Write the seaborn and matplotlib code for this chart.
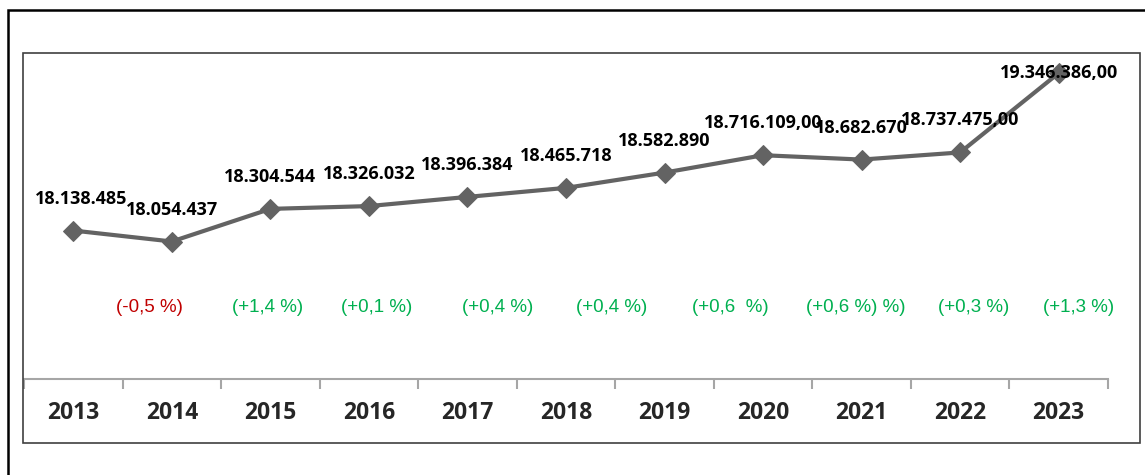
import numpy as np
import pandas as pd
import seaborn as sns
import matplotlib.pyplot as plt
from matplotlib.patches import Rectangle

# chart data
years = ["2013", "2014", "2015", "2016", "2017", "2018", "2019", "2020", "2021", "2022", "2023"]
population = [18138485, 18054437, 18304544, 18326032, 18396384, 18465718,
              18582890, 18716109, 18682670, 18737475, 19346386]
value_labels = ["18.138.485", "18.054.437", "18.304.544", "18.326.032", "18.396.384", "18.465.718",
                "18.582.890", "18.716.109,00", "18.682.670", "18.737.475,00", "19.346.386,00"]
change_labels = ["(-0,5 %)", "(+1,4 %)", "(+0,1 %)", "(+0,4 %)", "(+0,4 %)",
                 "(+0,6  %)", "(+0,6 %) %)", "(+0,3 %)", "(+1,3 %)"]
change_years = ["2014", "2015", "2016", "2017", "2018", "2019", "2021", "2022", "2023"]
change_shift = [-0.23, -0.03, 0.08, 0.31, 0.46, 0.67, -0.06, 0.14, 0.2]  # text box offsets

df = pd.DataFrame({"pos": np.arange(len(years)), "value": population})

sns.set_style("white")
plt.rcParams["font.family"] = ["Open Sans", "DejaVu Sans"]

fig = plt.figure(figsize=(11.45, 4.75), dpi=100)
ax = fig.add_axes([24 / 1145, 96 / 475, 1084 / 1145, 326 / 475])

sns.lineplot(data=df, x="pos", y="value", ax=ax, color="#636363", linewidth=3,
             marker="D", markersize=10, markeredgecolor="#636363")

# value labels above the points
for i, (v, lab) in enumerate(zip(population, value_labels)):
    off = 0 if i == len(years) - 1 else 32
    ax.annotate(lab, (i, v), xytext=(0 if i != 0 else 8, off), textcoords="offset pixels",
                ha="center", va="center", fontsize=13, fontweight="bold", color="black")

# yearly change labels
for yr, lab, sh in zip(change_years, change_labels, change_shift):
    i = years.index(yr)
    col = "#C00000" if lab.startswith("(-") else "#00B050"
    ax.text(i + sh, 17545000, lab, ha="center", va="center", fontsize=13.5,
            color=col, family=["Liberation Sans Narrow", "Liberation Sans"])

ax.set_xlim(-0.5, len(years) - 0.5)
ax.set_ylim(17000000, 19500000)
ax.set_xticks(range(len(years)))
ax.set_xticklabels(years, fontsize=16.5, fontweight="bold")
ax.set_xticks(np.arange(-0.5, len(years)), minor=True)
ax.tick_params(axis="x", which="both", bottom=True)
ax.tick_params(axis="x", which="major", length=0, pad=16)
ax.tick_params(axis="x", which="minor", length=7, width=1.5, color="#A6A6A6", direction="out")
ax.set_yticks([])
ax.set_xlabel("")
ax.set_ylabel("")
for s in ["top", "left", "right"]:
    ax.spines[s].set_visible(False)
ax.spines["bottom"].set_color("#A6A6A6")
ax.spines["bottom"].set_linewidth(1.5)
ax.patch.set_alpha(0)

# chart frames
fig.patches.append(Rectangle((23 / 1145, 32 / 475), 1117 / 1145, 390 / 475, transform=fig.transFigure,
                             fill=False, edgecolor="#404040", linewidth=1.2))
fig.patches.append(Rectangle((8 / 1145, -0.05), 1.1, (465 / 475) + 0.05, transform=fig.transFigure,
                             fill=False, edgecolor="black", linewidth=1.8))

fig.savefig("out.png", dpi=100)
